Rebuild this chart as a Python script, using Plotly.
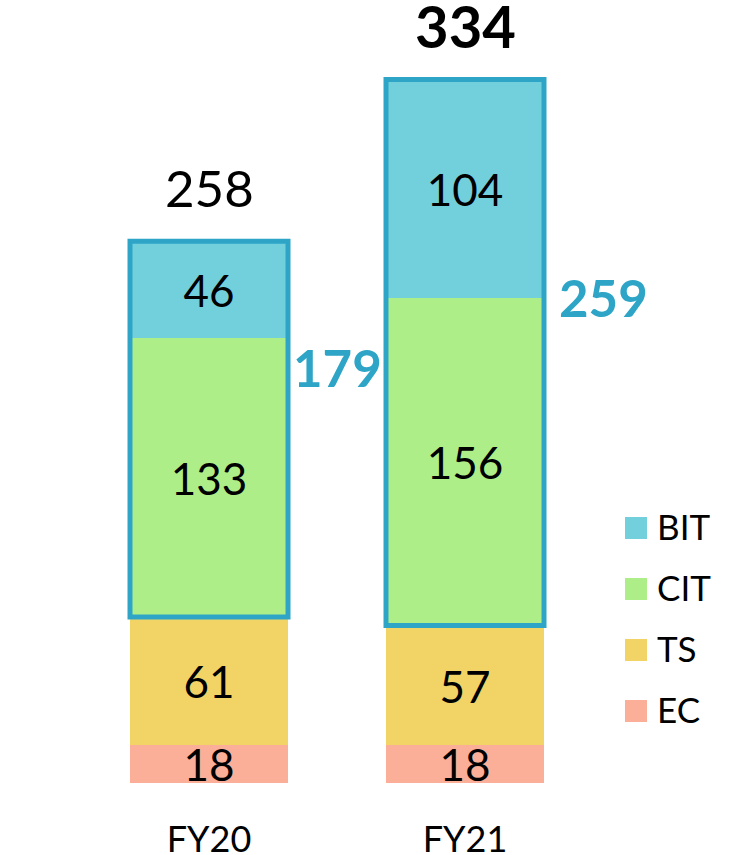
import plotly.graph_objects as go

# ---- data ----
years = ["FY20", "FY21"]
ec = [18, 18]
ts = [61, 57]
cit = [133, 156]
bit = [46, 104]
total_labels = [258, 334]          # totals as printed above the bars
group_labels = [179, 259]          # totals printed for the outlined CIT+BIT block
series_names = ["BIT", "CIT", "TS", "EC"]
series_colors = ["#72CFDC", "#AEEE88", "#F2D466", "#FBAE98"]

values = {"EC": ec, "TS": ts, "CIT": cit, "BIT": bit}
color_of = dict(zip(series_names, series_colors))
tops = [a + b + c + d for a, b, c, d in zip(ec, ts, cit, bit)]
group_base = [a + b for a, b in zip(ec, ts)]

FONT = "Lato, 'Open Sans', sans-serif"
OUTLINE = "#2EA5C6"

W, H = 739, 855
MB = 72
plot_h = H - MB
px_per_unit = 2.1
bar_w = 158 / 256
x = list(range(len(years)))

fig = go.Figure()
for name in ["EC", "TS", "CIT", "BIT"]:
    fig.add_trace(go.Bar(
        x=x, y=values[name], name=name,
        width=bar_w,
        marker=dict(color=color_of[name], line=dict(width=0)),
        texttemplate="%{y}",
        textposition="inside",
        insidetextanchor="middle",
        textangle=0,
        constraintext="none",
        textfont=dict(family=FONT, size=44, color="black"),
        showlegend=False,
        hoverinfo="skip",
    ))

shapes = []
annotations = []
# outline around CIT+BIT
for i in x:
    shapes.append(dict(
        type="rect", xref="x", yref="y",
        x0=i - bar_w / 2, x1=i + bar_w / 2,
        y0=group_base[i], y1=tops[i],
        line=dict(color=OUTLINE, width=5),
        fillcolor="rgba(0,0,0,0)", layer="above",
    ))

# totals on top
total_styles = [dict(size=51, bold=False), dict(size=58, bold=True)]
for i in x:
    st = total_styles[i]
    txt = str(total_labels[i])
    annotations.append(dict(
        x=i, y=tops[i], xref="x", yref="y",
        text=f"<b>{txt}</b>" if st["bold"] else txt,
        showarrow=False, yanchor="middle", yshift=54,
        font=dict(family=FONT, size=st["size"], color="black"),
    ))

# outlined group totals
g_xshift = [3, 13]
g_yshift = [-30, 0]
for i in x:
    annotations.append(dict(
        x=i + bar_w / 2, y=group_base[i] + cit[i], xref="x", yref="y",
        text=f"<b>{group_labels[i]}</b>",
        showarrow=False, xanchor="left", yanchor="middle",
        xshift=g_xshift[i], yshift=g_yshift[i],
        font=dict(family=FONT, size=51, color=OUTLINE),
    ))

# legend (custom swatches)
sw_x0, sw_x1 = 625, 647
sw_top0, sw_step, sw_size = 517, 61, 22
for k, name in enumerate(series_names):
    top = sw_top0 + k * sw_step
    shapes.append(dict(
        type="rect", xref="paper", yref="paper",
        x0=sw_x0 / W, x1=sw_x1 / W,
        y0=(plot_h - (top + sw_size)) / plot_h, y1=(plot_h - top) / plot_h,
        line=dict(width=0), fillcolor=color_of[name],
    ))
    annotations.append(dict(
        x=655 / W, y=(plot_h - (top + sw_size / 2 - 2)) / plot_h,
        xref="paper", yref="paper", text=name, showarrow=False,
        xanchor="left", yanchor="middle",
        font=dict(family=FONT, size=35, color="black"),
    ))

xmin = -209 / 256
xmax = xmin + W / 256

fig.update_layout(
    width=W, height=H,
    margin=dict(l=0, r=0, t=0, b=MB, autoexpand=False),
    paper_bgcolor="white", plot_bgcolor="white",
    barmode="stack", bargap=0,
    shapes=shapes, annotations=annotations,
    showlegend=False,
    xaxis=dict(range=[xmin, xmax], tickvals=x, ticktext=years,
               showgrid=False, zeroline=False, showline=False, ticks="",
               ticklabelstandoff=32, automargin=False,
               tickfont=dict(family=FONT, size=36, color="black"), fixedrange=True),
    yaxis=dict(range=[0, plot_h / px_per_unit], visible=False,
               showgrid=False, zeroline=False, fixedrange=True, automargin=False),
)

fig.write_html(
    "out.html",
    config={"displayModeBar": False},
    post_script="document.body.style.margin='0';document.body.style.overflow='hidden';",
)
